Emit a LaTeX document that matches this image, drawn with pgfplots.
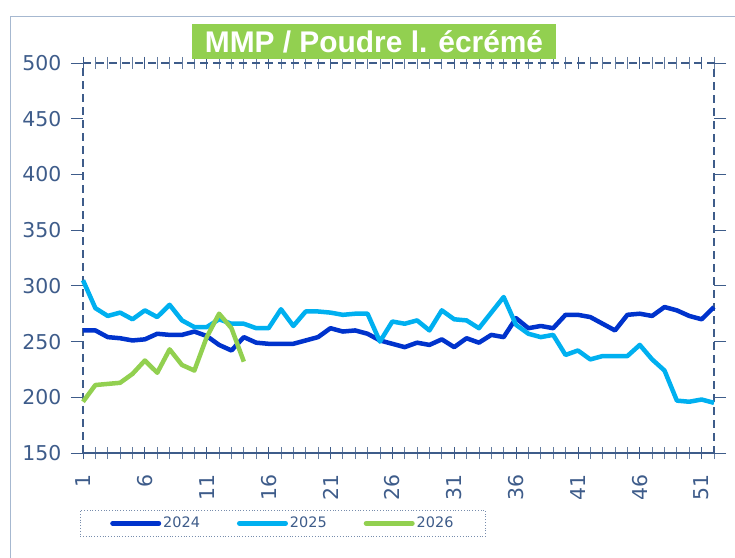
\documentclass[border=0pt]{standalone}
\usepackage{fontspec}
\setmainfont{DejaVu Sans}
\newfontfamily\titlefont{Liberation Sans}
\usepackage{graphicx}
\usepackage{pgfplots}
\pgfplotsset{compat=1.18}
\definecolor{c24}{RGB}{0,51,204}
\definecolor{c25}{RGB}{0,176,240}
\definecolor{c26}{RGB}{146,208,80}
\definecolor{axc}{RGB}{62,92,138}
\definecolor{framec}{RGB}{166,184,208}

\pgfplotstableread{
w v
1 260
2 260
3 254
4 253
5 251
6 252
7 257
8 256
9 256
10 259
11 255
12 247
13 242
14 254
15 249
16 248
17 248
18 248
19 251
20 254
21 262
22 259
23 260
24 257
25 251
26 248
27 245
28 249
29 247
30 252
31 245
32 253
33 249
34 256
35 254
36 271
37 262
38 264
39 262
40 274
41 274
42 272
43 266
44 260
45 274
46 275
47 273
48 281
49 278
50 273
51 270
52 281
}\dataA

\pgfplotstableread{
w v
1 305
2 280
3 273
4 276
5 270
6 278
7 272
8 283
9 269
10 263
11 263
12 270
13 266
14 266
15 262
16 262
17 279
18 264
19 277
20 277
21 276
22 274
23 275
24 275
25 250
26 268
27 266
28 269
29 260
30 278
31 270
32 269
33 262
34 276
35 290
36 265
37 257
38 254
39 256
40 238
41 242
42 234
43 237
44 237
45 237
46 247
47 234
48 224
49 197
50 196
51 198
52 195
}\dataB

\pgfplotstableread{
w v
1 196
2 211
3 212
4 213
5 221
6 233
7 222
8 243
9 229
10 224
11 254
12 275
13 262
14 232
}\dataC

\begin{document}
\begin{tikzpicture}
\useasboundingbox (0,0) rectangle (735bp,558bp);
\draw[framec, line width=1bp] (10bp,-5bp) -- (10bp,541bp) -- (745bp,541bp);
\begin{axis}[
  at={(83bp,105bp)}, anchor=south west,
  scale only axis, width=631bp, height=390bp,
  xmin=1, xmax=52, ymin=150, ymax=500,
  clip=false,
  axis line style={draw=none},
  xtick={1,6,...,51},
  minor xtick={1,...,52},
  ytick={150,200,...,500},
  xtick align=center,
  ytick align=outside,
  major tick length=12bp,
  minor tick length=12bp,
  tick style={axc, line width=0.8bp},
  minor tick style={axc!80, line width=0.8bp},
  /pgf/number format/assume math mode=true,
  ticklabel style={text=axc, font=\fontsize{20.5}{24}\selectfont},
  xticklabel style={rotate=90, anchor=east},
  xticklabel shift=12bp,
  yticklabel shift=6bp,
  legend columns=3,
  legend style={at={(-0.005,-0.215)}, anchor=south west, draw=axc!70, dotted, line width=0.8bp,
    inner xsep=30bp, inner ysep=5bp, text=axc, font=\fontsize{14.5}{17}\selectfont,
    /tikz/every even column/.append style={column sep=35bp}},
  legend image code/.code={\draw[#1, solid, line width=5bp, line cap=round] (0bp,0bp) -- (46bp,0bp);},
]
\draw[axc, line width=2bp, dash pattern=on 8bp off 5bp] (rel axis cs:0,0) -- (rel axis cs:0,1) -- (rel axis cs:1,1) -- (rel axis cs:1,0);
\draw[axc, line width=1.5bp] (rel axis cs:0,0) -- (rel axis cs:1,0);
\addplot[c24, line width=4.5bp, line join=round] table[x=w, y=v] {\dataA};
\addlegendentry{2024}
\addplot[c25, line width=4.5bp, line join=round] table[x=w, y=v] {\dataB};
\addlegendentry{2025}
\addplot[c26, line width=4.5bp, line join=round] table[x=w, y=v] {\dataC};
\addlegendentry{2026}
\end{axis}
\node[fill=c26, text=white, minimum width=364bp, minimum height=35bp, inner sep=0pt] at (374bp,516bp)
  {\titlefont\bfseries\fontsize{30}{36}\selectfont MMP / Poudre l. écrémé};
\end{tikzpicture}
\end{document}
